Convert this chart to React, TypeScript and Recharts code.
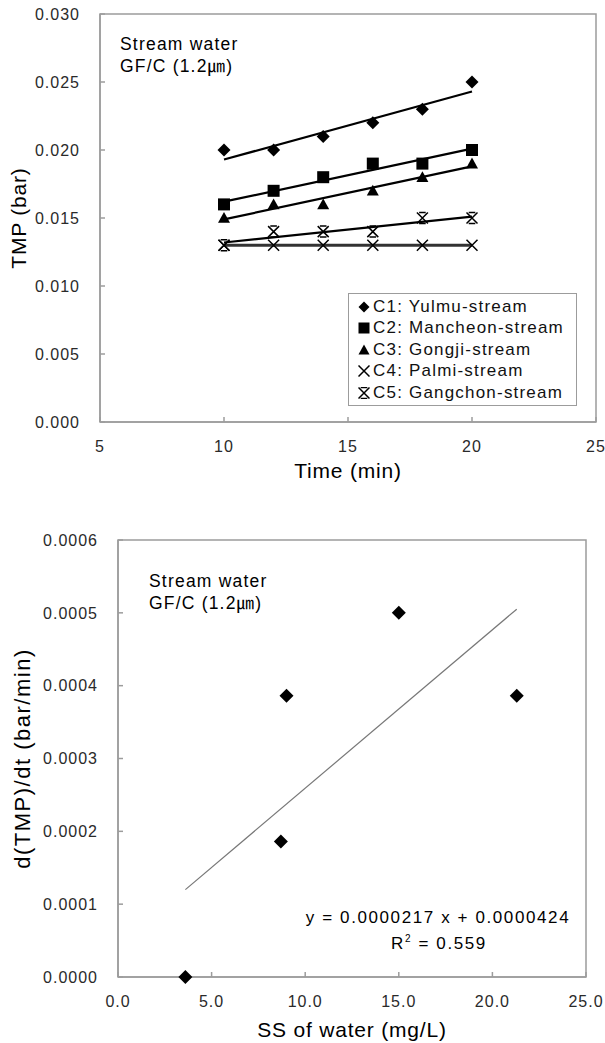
import { Customized, Legend, ReferenceArea, Scatter, ScatterChart, XAxis, YAxis } from "recharts";

const FONT = '"Liberation Sans", Arial, "Noto Sans CJK KR", sans-serif';
const AXIS = "#9c9c9c";

// top chart: TMP vs time for the five streams
const times = [10, 12, 14, 16, 18, 20];
const yulmu = [0.020, 0.020, 0.021, 0.022, 0.023, 0.025];
const mancheon = [0.016, 0.017, 0.018, 0.019, 0.019, 0.020];
const gongji = [0.015, 0.016, 0.016, 0.017, 0.018, 0.019];
const palmi = [0.013, 0.013, 0.013, 0.013, 0.013, 0.013];
const gangchon = [0.013, 0.014, 0.014, 0.014, 0.015, 0.015];

// trend line ends
const fitTimes = [10, 20];
const fitYulmu = [0.0193, 0.0243];
const fitMancheon = [0.0162, 0.0201];
const fitGongji = [0.0149, 0.0188];
const fitPalmi = [0.013, 0.013];
const fitGangchon = [0.0132, 0.0151];

const seriesNames = ["C1: Yulmu-stream", "C2: Mancheon-stream", "C3: Gongji-stream", "C4: Palmi-stream", "C5: Gangchon-stream"];
const markerKinds = ["diamond", "square", "triangle", "cross", "star"];
const markerSizes = [13, 12, 12, 11, 11];

const timeTicks = [5, 10, 15, 20, 25];
const tmpTicks = [0, 0.005, 0.01, 0.015, 0.02, 0.025, 0.03];

// bottom chart: slope vs SS
const ssValues = [3.6, 8.7, 9.0, 15.0, 21.3];
const slopes = [0.0, 0.000186, 0.000386, 0.0005, 0.000386];
const fitSS = [3.6, 21.3];
const fitSlope = [0.00012, 0.000505];
const ssTicks = [0, 5, 10, 15, 20, 25];
const slopeTicks = [0, 0.0001, 0.0002, 0.0003, 0.0004, 0.0005, 0.0006];

const toPoints = (xs: number[], ys: number[]) => xs.map((x, i) => ({ x, y: ys[i] }));

function Marker({ kind, cx, cy, size }: { kind: string; cx: number; cy: number; size: number }) {
  const h = size / 2;
  if (kind === "diamond")
    return <polygon points={`${cx},${cy - h} ${cx + h},${cy} ${cx},${cy + h} ${cx - h},${cy}`} fill="#000" />;
  if (kind === "square") return <rect x={cx - h} y={cy - h} width={size} height={size} fill="#000" />;
  if (kind === "triangle")
    return <polygon points={`${cx},${cy - h} ${cx + h},${cy + h * 0.8} ${cx - h},${cy + h * 0.8}`} fill="#000" />;
  const x = `M${cx - h},${cy - h}L${cx + h},${cy + h}M${cx + h},${cy - h}L${cx - h},${cy + h}`;
  if (kind === "cross") return <path d={x} stroke="#000" strokeWidth={1.5} fill="none" />;
  const bars = `M${cx - h * 0.6},${cy - h}L${cx + h * 0.6},${cy - h}M${cx - h * 0.6},${cy + h}L${cx + h * 0.6},${cy + h}`;
  return <path d={x + bars} stroke="#000" strokeWidth={1.5} fill="none" />;
}

const TmpLegend = () => (
  <div
    style={{
      boxSizing: "border-box",
      width: 229,
      height: 113,
      border: `1.5px solid ${AXIS}`,
      padding: "2px 0 0 9px",
      background: "#fff",
      fontFamily: FONT,
      fontSize: 17,
      letterSpacing: 1.2,
      color: "#111",
    }}
  >
    {seriesNames.map((n, i) => (
      <div key={n} style={{ height: 21.5, display: "flex", alignItems: "center", whiteSpace: "nowrap" }}>
        <svg width={12} height={12} style={{ marginRight: 3 }}>
          <Marker kind={markerKinds[i]} cx={6} cy={6} size={11} />
        </svg>
        <span>{n}</span>
      </div>
    ))}
  </div>
);

const tickStyle = { fontFamily: FONT, fontSize: 16, fill: "#2a2a2a", letterSpacing: 1 };
const titleStyle = { fontFamily: FONT, fontSize: 21, fill: "#000", letterSpacing: 0.8, textAnchor: "middle" as const };
const noteStyle = { fontFamily: FONT, fontSize: 17.5, fill: "#000", letterSpacing: 1.2 };

function TopChart() {
  const series = [yulmu, mancheon, gongji, palmi, gangchon];
  const fits = [fitYulmu, fitMancheon, fitGongji, fitPalmi, fitGangchon];
  return (
    <ScatterChart width={605} height={490} margin={{ top: 14, right: 9, bottom: 0, left: 0 }}>
      <ReferenceArea x1={5} x2={25} y1={0} y2={0.03} fill="none" stroke={AXIS} strokeWidth={1.5} />
      <XAxis
        type="number"
        dataKey="x"
        domain={[5, 25]}
        ticks={timeTicks}
        height={68}
        stroke={AXIS}
        strokeWidth={1.5}
        tickSize={-5}
        tickMargin={24}
        tick={tickStyle}
        label={{ value: "Time (min)", position: "insideBottom", offset: 12, style: titleStyle }}
      />
      <YAxis
        type="number"
        dataKey="y"
        domain={[0, 0.03]}
        ticks={tmpTicks}
        width={100}
        stroke={AXIS}
        strokeWidth={1.5}
        tickSize={-5}
        tickMargin={25}
        tick={tickStyle}
        tickFormatter={(v: number) => v.toFixed(3)}
        label={{ value: "TMP (bar)", angle: -90, position: "insideLeft", offset: 19, style: titleStyle }}
      />
      {fits.map((f, i) => (
        <Scatter
          key={`fit${i}`}
          data={toPoints(fitTimes, f)}
          line={{ stroke: i === 3 ? "#333" : "#000", strokeWidth: i === 3 ? 3 : 2.2 }}
          shape={() => <g />}
          legendType="none"
          isAnimationActive={false}
        />
      ))}
      {series.map((s, i) => (
        <Scatter
          key={seriesNames[i]}
          name={seriesNames[i]}
          data={toPoints(times, s)}
          shape={(p: any) => <Marker kind={markerKinds[i]} cx={p.cx} cy={p.cy} size={markerSizes[i]} />}
          isAnimationActive={false}
        />
      ))}
      <Legend
        layout="horizontal"
        verticalAlign="middle"
        align="center"
        wrapperStyle={{ left: 348, top: 293, width: 229, height: 113 }}
        content={TmpLegend}
      />
      <Customized
        component={() => (
          <g style={noteStyle}>
            <text x={120} y={50}>Stream water</text>
            <text x={120} y={72}>GF/C (1.2㎛)</text>
          </g>
        )}
      />
    </ScatterChart>
  );
}

function SlopeChart() {
  return (
    <ScatterChart width={605} height={553} margin={{ top: 50, right: 19, bottom: 0, left: 0 }}>
      <ReferenceArea x1={0} x2={25} y1={0} y2={0.0006} fill="none" stroke={AXIS} strokeWidth={1.5} />
      <XAxis
        type="number"
        dataKey="x"
        domain={[0, 25]}
        ticks={ssTicks}
        height={66}
        stroke={AXIS}
        strokeWidth={1.5}
        tickSize={-5}
        tickMargin={24}
        tick={tickStyle}
        tickFormatter={(v: number) => v.toFixed(1)}
        label={{ value: "SS of water (mg/L)", position: "insideBottom", offset: 6, style: titleStyle }}
      />
      <YAxis
        type="number"
        dataKey="y"
        domain={[0, 0.0006]}
        ticks={slopeTicks}
        width={118}
        stroke={AXIS}
        strokeWidth={1.5}
        tickSize={-5}
        tickMargin={25}
        tick={tickStyle}
        tickFormatter={(v: number) => v.toFixed(4)}
        label={{ value: "d(TMP)/dt (bar/min)", angle: -90, position: "insideLeft", offset: 22, style: { ...titleStyle, fontSize: 22, letterSpacing: 1.5 } }}
      />
      <Scatter
        data={toPoints(fitSS, fitSlope)}
        line={{ stroke: "#777", strokeWidth: 1.2 }}
        shape={() => <g />}
        legendType="none"
        isAnimationActive={false}
      />
      <Scatter
        name="slope"
        data={toPoints(ssValues, slopes)}
        shape={(p: any) => <Marker kind="diamond" cx={p.cx} cy={p.cy} size={14} />}
        isAnimationActive={false}
      />
      <Customized
        component={() => (
          <g style={noteStyle}>
            <text x={149} y={97}>Stream water</text>
            <text x={149} y={119}>GF/C (1.2㎛)</text>
            <text x={438} y={433} textAnchor="middle" style={{ letterSpacing: 1.6, fontSize: 17 }}>
              y = 0.0000217 x + 0.0000424
            </text>
            <text x={439} y={459} textAnchor="middle" style={{ letterSpacing: 1.6, fontSize: 17 }}>
              R<tspan dy={-7} fontSize={10}>2</tspan>
              <tspan dy={7}> = 0.559</tspan>
            </text>
          </g>
        )}
      />
    </ScatterChart>
  );
}

export default function App() {
  return (
    <div style={{ position: "absolute", left: 0, top: 0, width: 605, height: 1043, background: "#fff" }}>
      <TopChart />
      <SlopeChart />
    </div>
  );
}
